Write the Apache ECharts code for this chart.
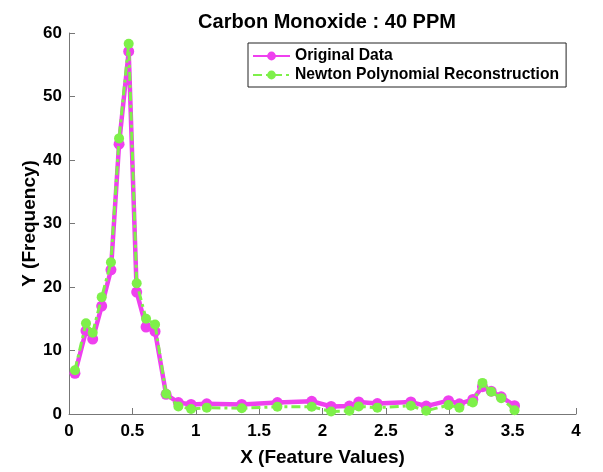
<!DOCTYPE html>
<html>
<head>
<meta charset="utf-8">
<script src="https://cdn.jsdelivr.net/npm/echarts@6/dist/echarts.min.js"></script>
<style>
html,body{margin:0;padding:0;background:#fff;}
#chart{width:603px;height:472px;}
</style>
</head>
<body>
<div id="chart"></div>
<script>
const xValues = [0.047, 0.134, 0.187, 0.258, 0.331, 0.395, 0.471, 0.534, 0.608, 0.679, 0.766, 0.863, 0.963, 1.087, 1.363, 1.644, 1.915, 2.068, 2.212, 2.286, 2.433, 2.697, 2.818, 2.994, 3.08, 3.186, 3.262, 3.331, 3.41, 3.515];
const originalData = [6.4, 13.1, 11.8, 17.0, 22.7, 42.5, 57.1, 19.2, 13.7, 13.0, 3.1, 1.8, 1.5, 1.6, 1.5, 1.8, 2.0, 1.2, 1.25, 1.9, 1.65, 1.9, 1.25, 2.1, 1.6, 2.3, 4.3, 3.6, 2.7, 1.3];
const newtonData = [6.9, 14.3, 12.8, 18.4, 23.9, 43.4, 58.3, 20.6, 15.0, 14.1, 3.2, 1.2, 0.8, 1.0, 0.9, 1.15, 1.15, 0.4, 0.5, 1.2, 1.0, 1.3, 0.5, 1.4, 1.0, 1.8, 4.9, 3.5, 2.5, 0.6];
const seriesNames = ['Original Data', 'Newton Polynomial Reconstruction'];
const titleText = 'Carbon Monoxide : 40 PPM';
const xLabel = 'X (Feature Values)';
const yLabel = 'Y (Frequency)';

const pair = (ys) => xValues.map((x, i) => [x, ys[i]]);
const font = 'Liberation Sans, Arial, Helvetica, sans-serif';
const magenta = '#ef40ef';
const green = '#7ef04a';

const chart = echarts.init(document.getElementById('chart'));
chart.setOption({
  animation: false,
  backgroundColor: '#fff',
  title: {
    text: titleText,
    left: 322, top: 7, textAlign: 'center',
    textStyle: {fontFamily: font, fontWeight: 'bold', fontSize: 20, color: '#000'}
  },
  legend: {
    orient: 'vertical',
    left: 248, top: 43,
    padding: [5, 7, 4, 4],
    itemGap: 3,
    itemWidth: 37, itemHeight: 11,
    borderColor: '#222', borderWidth: 1,
    backgroundColor: '#fff',
    textStyle: {fontFamily: font, fontWeight: 'bold', fontSize: 15.7, color: '#000'},
    data: seriesNames
  },
  grid: {left: 69, right: 27, top: 33, bottom: 53, containLabel: false},
  xAxis: {
    type: 'value', min: 0, max: 4, interval: 0.5,
    name: xLabel, nameLocation: 'middle', nameGap: 34, nameMoveOverlap: false,
    nameTextStyle: {fontFamily: font, fontWeight: 'bold', fontSize: 19, color: '#000'},
    axisLine: {show: true, lineStyle: {color: '#777', width: 1}},
    axisTick: {show: true, inside: true, length: 6, lineStyle: {color: '#777'}},
    axisLabel: {fontFamily: font, fontWeight: 'bold', fontSize: 17, color: '#000', margin: 9},
    splitLine: {show: false}
  },
  yAxis: {
    type: 'value', min: 0, max: 60, interval: 10,
    name: yLabel, nameLocation: 'middle', nameGap: 30, nameMoveOverlap: false,
    nameTextStyle: {fontFamily: font, fontWeight: 'bold', fontSize: 19, color: '#000'},
    axisLine: {show: true, lineStyle: {color: '#777', width: 1}},
    axisTick: {show: true, inside: true, length: 6, lineStyle: {color: '#777'}},
    axisLabel: {fontFamily: font, fontWeight: 'bold', fontSize: 17, color: '#000', margin: 7},
    splitLine: {show: false}
  },
  series: [
    {
      name: seriesNames[0], type: 'line', data: pair(originalData),
      symbol: 'circle', symbolSize: 11,
      itemStyle: {color: magenta},
      lineStyle: {color: magenta, width: 4.5},
      z: 2
    },
    {
      name: seriesNames[1], type: 'line', data: pair(newtonData),
      symbol: 'circle', symbolSize: 10,
      itemStyle: {color: green},
      lineStyle: {color: green, width: 3, type: [9, 4, 3, 4]},
      z: 3
    }
  ]
});
</script>
</body>
</html>
